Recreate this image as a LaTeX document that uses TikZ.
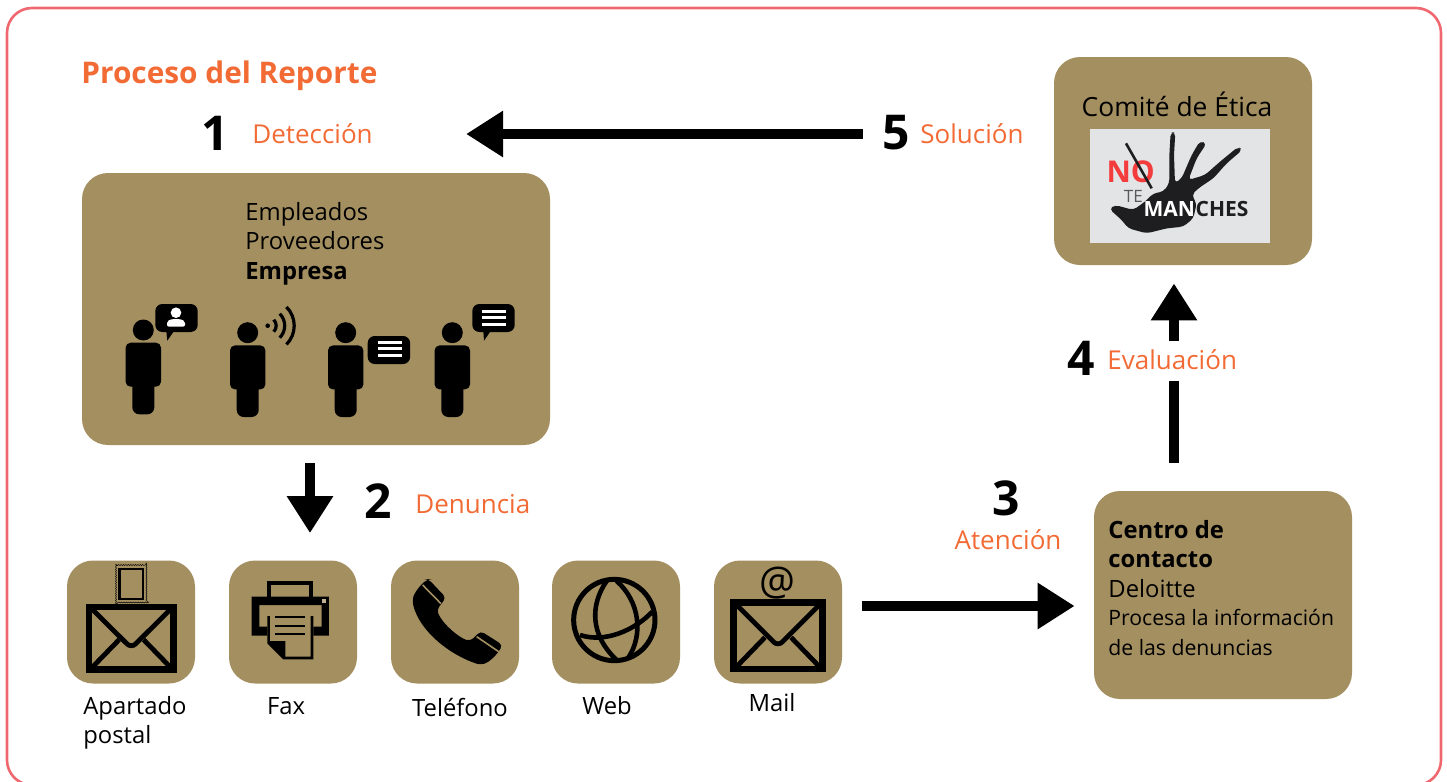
\documentclass[tikz,border=0pt]{standalone}
\usepackage{fontspec}
\setmainfont{Open Sans}
\usepackage{tikz}
\usetikzlibrary{arrows.meta}
\usetikzlibrary{decorations.pathmorphing}
\definecolor{tanbg}{HTML}{A48F60}
\definecolor{pinkline}{HTML}{F0686F}
\definecolor{orangetxt}{HTML}{F26B35}
\definecolor{logogray}{HTML}{E2E4E6}
\definecolor{logored}{HTML}{F43C3C}
\definecolor{logoink}{HTML}{1E1E20}
\tikzset{
    tanbox/.style={fill=tanbg, rounded corners=13pt, inner sep=0pt},
    iconbox/.style={tanbox, minimum width=64pt, minimum height=61.5pt},
    bigarrow/.style={line width=5pt, -{Triangle[length=18.5pt,width=22pt]}},
    bigline/.style={line width=5pt},
    labeltxt/.style={inner sep=0pt, font=\fontsize{11.9}{14.7}\selectfont},
    stagetxt/.style={inner sep=0pt, text=orangetxt, font=\fontsize{13}{14.7}\selectfont},
    numtxt/.style={inner sep=0pt, font=\fontsize{24}{26}\selectfont\bfseries},
    pics/person/.style={code={
        \fill (0,0) circle (10.5);
        \fill[rounded corners=2.5pt] (-17.7,12.7) rectangle (17.7,56.7);
        \fill[rounded corners=3.5pt] (-11,45) rectangle (11,84.3);
    }},
    pics/bubble/.style={code={
        \fill[rounded corners=3.5pt] (0,0) rectangle (42.4,28);
    }},
    pics/envelope/.style={code={
        \draw[line width=3.3pt] (3.3,3.3) rectangle (92.7,69.7);
        \draw[line width=2.4pt, rounded corners=3pt] (6,5) -- (48,47) -- (90,5);
        \draw[line width=2.4pt] (5,69) -- (35,38);
        \draw[line width=2.4pt] (91,69) -- (61,38);
    }},
}
\begin{document}
\begin{tikzpicture}[x=0.5pt,y=-0.5pt]
    \useasboundingbox (0,0) rectangle (1447,782);
    \clip (0,0) rectangle (1447,782);

    % draws outer frame
    \draw[pinkline, line width=1.3pt, rounded corners=12.5pt] (7,8) rectangle (1441,785);

    % draws boxes
    \node[tanbox, minimum width=234pt, minimum height=136pt] (boxPeople) at (316,309) {};
    \node[tanbox, minimum width=129pt, minimum height=104pt] (boxComite) at (1183,161) {};
    \node[tanbox, minimum width=129pt, minimum height=104pt] (boxCentro) at (1223,595) {};
    \node[iconbox] (boxPostal) at (131,622) {};
    \node[iconbox] (boxFax) at (293,622) {};
    \node[iconbox] (boxPhone) at (455,622) {};
    \node[iconbox] (boxWeb) at (616,622) {};
    \node[iconbox] (boxMail) at (778,622) {};

    % title and stage labels
    \node[anchor=west, inner sep=0pt, text=orangetxt, font=\fontsize{14.9}{18}\selectfont\bfseries] (title) at (81,76) {Proceso del Reporte};
    \node[numtxt] (numOne) at (215,133) {1};
    \node[stagetxt, anchor=west] (lblDetect) at (252,134) {Detección};
    \node[numtxt] (numTwo) at (378,501) {2};
    \node[stagetxt, anchor=west] (lblDenuncia) at (415,504) {Denuncia};
    \node[numtxt] (numThree) at (1006,498) {3};
    \node[stagetxt] (lblAtencion) at (1008,540) {Atención};
    \node[numtxt] (numFour) at (1081,358) {4};
    \node[stagetxt, anchor=west] (lblEval) at (1107,360) {Evaluación};
    \node[numtxt] (numFive) at (896,133) {5};
    \node[stagetxt, anchor=west] (lblSolucion) at (920,134) {Solución};

    % box texts
    \node[labeltxt, anchor=north west, align=left] (txtPeople) at (245,202) {Empleados\\Proveedores\\\textbf{Empresa}};
    \node[labeltxt, font=\fontsize{13.2}{15}\selectfont] (txtComite) at (1177,104) {Comité de Ética};
    \node[labeltxt, anchor=north west, align=left] (txtCentro) at (1108,520) {\textbf{Centro de}\\\textbf{contacto}\\Deloitte};
    \node[anchor=north west, inner sep=0pt, align=left, font=\fontsize{10.6}{14.7}\selectfont] (txtProcesa) at (1108,609) {Procesa la información\\de las denuncias};

    % icon captions
    \node[labeltxt, anchor=north west, align=left] (capPostal) at (83,696) {Apartado\\postal};
    \node[labeltxt] (capFax) at (286,706) {Fax};
    \node[labeltxt] (capPhone) at (460,707) {Teléfono};
    \node[labeltxt] (capWeb) at (607,706) {Web};
    \node[labeltxt] (capMail) at (772,703) {Mail};

    % draws arrows
    \coordinate (gapLow) at (1174,381);
    \coordinate (gapHigh) at (1174,341);
    \draw[bigarrow, shorten <=9.5pt, shorten >=46.5pt] (numFive.west |- lblSolucion.west) -- (lblDetect.east);
    \draw[bigarrow, shorten <=9pt, shorten >=13.5pt] ([xshift=-3pt]boxPeople.south) -- ([xshift=8.5pt]boxFax.north);
    \draw[bigarrow, shorten <=10pt, shorten >=9.5pt] ([yshift=8pt]boxMail.east) -- ([yshift=-5.5pt]boxCentro.west);
    \draw[bigline, shorten <=14pt] ([xshift=-24.5pt]boxCentro.north) -- (gapLow);
    \draw[bigarrow, shorten >=9pt] (gapHigh) -- ([xshift=-4.5pt]boxComite.south);

    % draws people
    \pic at (143.3,330) {person};
    \pic at (247.7,332.7) {person};
    \pic at (345.7,332.7) {person};
    \pic at (452.3,332.7) {person};

    % speech bubbles
    \pic at (155.3,304) {bubble};
    \fill (166.3,331) -- (167.3,340.7) -- (174,331) -- cycle;
    \fill[white] (176,312.7) circle (5.3);
    \fill[white, rounded corners=1pt] (167,326.7) -- (167,321) -- (172,319) -- (180,319) -- (185,321) -- (185,326.7) -- cycle;
    \pic at (367.7,336) {bubble};
    \pic at (472.3,304) {bubble};
    \fill (483.3,331) -- (484,340.7) -- (490.7,331) -- cycle;
    \foreach \ly in {342.3,348.7,355.3} {
        \fill[white] (377.7,\ly-1.5) rectangle (402.3,\ly+1.5);
    }
    \foreach \ly in {311.3,317.7,324.3} {
        \fill[white] (481.7,\ly-1.5) rectangle (506.3,\ly+1.5);
    }

    % radio waves
    \fill (267.7,325.7) circle (2.3);
    \foreach \r in {8.5,17,26.5} {
        \draw[line width=1.6pt] ([shift={(45:\r)}]267.7,325.7) arc[start angle=45, end angle=-45, radius=\r];
    }

    % postal envelope and stamp
    \pic[xscale=0.945, yscale=0.94] at (86,604) {envelope};
    \draw[line width=1.1pt] (119.5,569) rectangle (143.2,599);
    \draw[line width=0.25pt, decorate, decoration={bumps,segment length=2.4pt,amplitude=0.5pt}] (115.5,564.5) rectangle (147,603);

    % mail envelope
    \pic at (730,599.3) {envelope};
    \node[inner sep=0pt, font=\fontsize{20}{21}\selectfont] (atSign) at (777,583) {@};

    % printer
    \begin{scope}[shift={(60,555)}, scale=1/3]
        \draw[line width=1.85pt] (628,125) -- (628,84) -- (754,84) -- (754,125);
        \fill (575,125) -- (807,125) -- (807,242) -- (760,242) -- (760,215) -- (785,215) -- (785,150) -- (598,150) -- (598,215) -- (622,215) -- (622,242) -- (575,242) -- cycle;
        \fill[tanbg] (630,183) rectangle (752,305);
        \fill (622,183) -- (630,183) -- (630,258) -- (676,258) -- (676,305) -- (752,305) -- (752,183) -- (760,183) -- (760,313) -- (670,313) -- (622,265) -- cycle;
        \foreach \ly in {185,212,236} {
            \fill (645,\ly-2.5) rectangle (735,\ly+2.5);
        }
        \fill[tanbg!70!white] (787,132) rectangle (799,144);
    \end{scope}

    % phone handset
    \begin{scope}[shift={(60,555)}, scale=1/3]
        \fill[rounded corners=2pt] (1105,72) -- (1158,128) -- (1130,165) .. controls (1150,210) and (1200,250) .. (1232,258) -- (1262,228) -- (1328,270) .. controls (1310,300) and (1290,320) .. (1262,330) .. controls (1170,300) and (1080,230) .. (1057,140) .. controls (1062,115) and (1080,90) .. cycle;
        \draw[tanbg, line width=0.8pt] (1088,90) -- (1143,146);
        \draw[tanbg, line width=0.8pt] (1250,245) -- (1316,290);
    \end{scope}

    % globe
    \begin{scope}[shift={(545,555)}, scale=1/3]
        \draw[line width=2.5pt] (208,195) circle (122);
        \draw[line width=2.3pt] (185,78) .. controls (135,150) and (135,240) .. (215,315);
        \draw[line width=2.3pt] (215,78) .. controls (285,140) and (295,240) .. (250,308);
        \draw[line width=2.3pt] (105,240) .. controls (180,265) and (270,225) .. (322,170);
    \end{scope}

    % ethics committee logo
    \begin{scope}[shift={(1050,55)}, scale=1/3]
        \fill[logogray] (120,222) rectangle (660,563);
        \node[anchor=south, inner sep=0pt, text=logored, font=\fontsize{15}{16}\selectfont\bfseries] (logoNo) at (242,386) {NO};
        \fill[logoink, rounded corners=2pt] (178,462) -- (195,450) -- (250,465) -- (285,440) -- (310,415) -- (340,410) -- (358,385) -- (358,300) -- (362,232) -- (376,232) -- (372,300) -- (375,385) -- (395,370) -- (425,300) -- (450,258) -- (470,265) -- (440,310) -- (415,375) -- (465,360) -- (510,320) -- (565,275) -- (577,285) -- (530,325) -- (490,370) -- (445,400) -- (425,420) -- (440,445) -- (430,490) -- (400,515) -- (350,520) -- (290,535) -- (235,520) -- (215,495) -- cycle;
        \draw[logoink, line width=1.3pt] (228,265) -- (305,400);
        \node[anchor=north, inner sep=0pt, text=black!65, font=\fontsize{8.5}{9}\selectfont] (logoTe) at (250,404) {TE};
        \node[anchor=east, inner sep=0pt, text=white, font=\fontsize{10.5}{11}\selectfont\bfseries] (logoMan) at (436,463) {MAN};
        \node[anchor=west, inner sep=0pt, text=logoink, font=\fontsize{10.5}{11}\selectfont\bfseries] (logoChes) at (logoMan.east) {CHES};
    \end{scope}
\end{tikzpicture}
\end{document}
